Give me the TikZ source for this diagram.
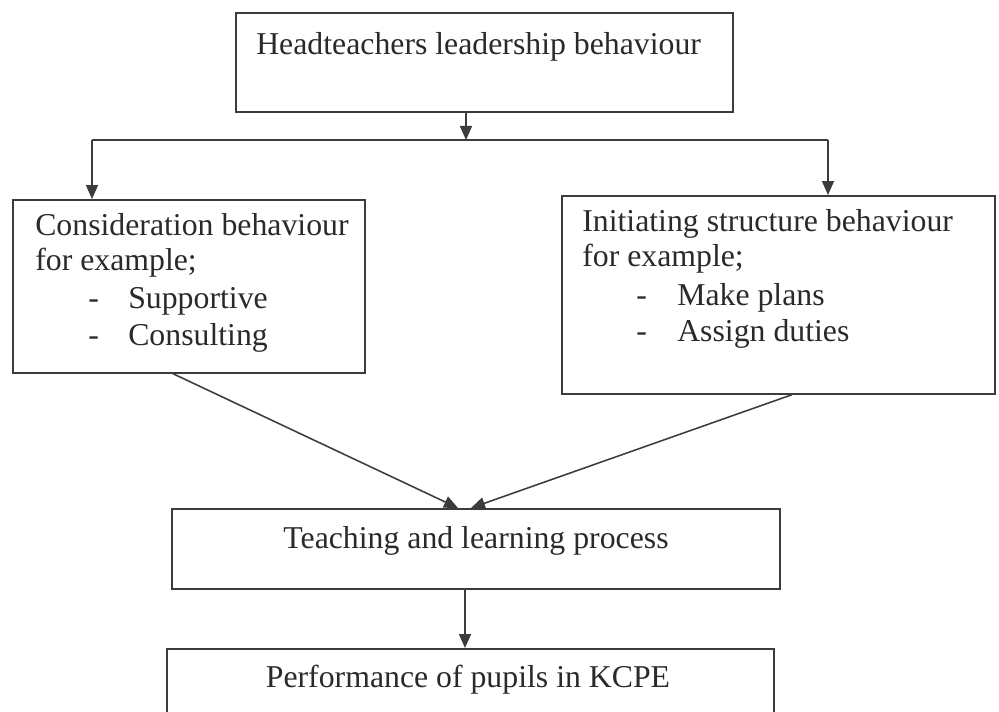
\documentclass[tikz,border=0pt]{standalone}
\usepackage{fontspec}
\setmainfont{Liberation Serif}
\usetikzlibrary{arrows.meta}

\definecolor{ink}{HTML}{3C3C3C}
\definecolor{letter}{HTML}{2A2A2A}
\newcommand{\pxl}{0.025cm} % one unit of the grid

\begin{document}
\begin{tikzpicture}[x=\pxl, y=-\pxl]
    \tikzset{
        box/.style={draw=ink, line width=1.2pt, anchor=north west, inner sep=0pt},
        txt/.style={anchor=base west, inner sep=0pt, text=letter, font=\fontsize{22.6}{26}\selectfont},
        arr/.style={draw=ink, line width=1.1pt, -{Triangle[length=3.5mm, width=3mm]}},
    }
    \clip (0,0) rectangle (999,711);
    \fill[white] (0,0) rectangle (999,711);

    %% boxes
    \node[box, minimum width=497*\pxl, minimum height=99*\pxl]  (head)  at (235,12)  {};
    \node[box, minimum width=352*\pxl, minimum height=173*\pxl] (cons)  at (12,199)  {};
    \node[box, minimum width=433*\pxl, minimum height=198*\pxl] (init)  at (561,195) {};
    \node[box, minimum width=608*\pxl, minimum height=80*\pxl]  (teach) at (171,508) {};
    \node[box, minimum width=607*\pxl, minimum height=95*\pxl]  (perf)  at (166,648) {};

    %% texts
    \node[txt] (head-t) at (256,54) {Headteachers leadership behaviour};
    \foreach \y/\txt [count=\i] in {235/Consideration behaviour, 270/for example;}
        \node[txt] (cons-\i) at (35,\y) {\txt};
    \foreach \y/\txt [count=\i] in {308/Supportive, 345/Consulting} {
            \node[txt] (cons-d\i) at (88,\y) {-};
            \node[txt] (cons-i\i) at (128,\y) {\txt};
        }
    \foreach \y/\txt [count=\i] in {231/Initiating structure behaviour, 266/for example;}
        \node[txt] (init-\i) at (582,\y) {\txt};
    \foreach \y/\txt [count=\i] in {305/Make plans, 341/Assign duties} {
            \node[txt] (init-d\i) at (636,\y) {-};
            \node[txt] (init-i\i) at (677,\y) {\txt};
        }
    \node[txt, anchor=base] (teach-t) at (476,548) {Teaching and learning process};
    \node[txt, anchor=base] (perf-t)  at (468,687) {Performance of pupils in KCPE};

    %% connectors
    \coordinate (fork)  at (466,140);
    \coordinate (forkL) at (92,140);
    \coordinate (forkR) at (828,140);
    \draw[arr] (fork |- head.south) -- (fork);
    \draw[draw=ink, line width=1.1pt] (forkL) -- (forkR);
    \draw[arr] (forkL) -- (forkL |- cons.north);
    \draw[arr] (forkR) -- (forkR |- init.north);

    \draw[arr] (cons.south -| 173,0) -- (teach.north -| 458,0);
    \draw[arr] (init.south -| 792,0) -- (teach.north -| 471,0);
    \draw[arr] (teach.south -| 465,0) -- (perf.north -| 465,0);
\end{tikzpicture}
\end{document}
